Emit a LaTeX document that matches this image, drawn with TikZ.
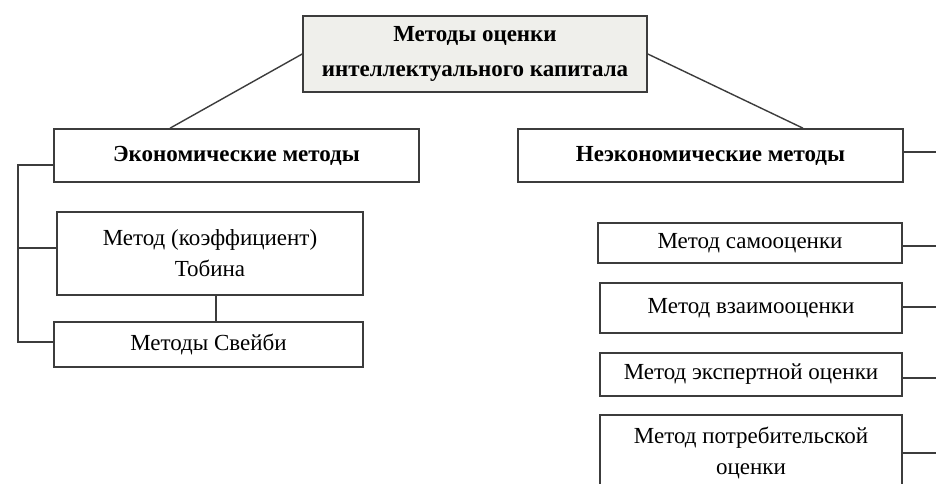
\documentclass[tikz,border=0pt]{standalone}
\usepackage{fontspec}
\setmainfont{Liberation Serif}
\definecolor{linec}{HTML}{3C3C3C}
\definecolor{topfill}{HTML}{EFEFEB}
\begin{document}
\begin{tikzpicture}[x=1pt,y=-1pt,
  box/.style={draw=linec, line width=1.6pt, fill=white, align=center, inner sep=0pt,
    font=\fontsize{23}{31}\selectfont},
  hbox/.style={box, font=\fontsize{23}{35}\selectfont\bfseries},
  conn/.style={draw=linec, line width=1.4pt}]
\useasboundingbox (0,0) rectangle (936,484);
\fill[white] (0,0) rectangle (936,484);
% nodes
\node[hbox, fill=topfill, minimum width=344pt, minimum height=76pt] (top) at (475,54)
  {Методы оценки\\интеллектуального капитала};
\node[hbox, minimum width=365pt, minimum height=53pt] (econ) at (236.5,155.5)
  {Экономические методы};
\node[box, minimum width=306pt, minimum height=83pt] (tobin) at (210,253.5)
  {Метод (коэффициент)\\Тобина};
\node[box, minimum width=309pt, minimum height=45pt] (svejby) at (208.5,344.5)
  {Методы Свейби};
\node[hbox, minimum width=385pt, minimum height=53pt] (nonecon) at (710.5,155.5)
  {Неэкономические методы};
\node[box, minimum width=304pt, minimum height=40pt] (samo) at (750,243)
  {Метод самооценки};
\node[box, minimum width=302pt, minimum height=50pt] (vzaim) at (751,308)
  {Метод взаимооценки};
\node[box, minimum width=302pt, minimum height=43pt] (expert) at (751,374.5)
  {Метод экспертной оценки};
\node[box, minimum width=302pt, minimum height=76pt] (potreb) at (751,453)
  {Метод потребительской\\оценки};
% connectors
\draw[conn] (top.west) -- (econ.north -| 170,0);
\draw[conn] (top.east) -- (nonecon.north -| 803,0);
\draw[conn] (tobin.south -| 216,0) -- (svejby.north -| 216,0);
\coordinate (lb) at (18,165);
\draw[conn] (econ.west |- lb) -- (lb) |- (svejby.west |- 0,342);
\draw[conn] (tobin.west |- 0,248) -- (lb |- 0,248);
\coordinate (re) at (936,0);
\draw[conn] (nonecon.east |- 0,152) -- (re |- 0,152);
\draw[conn] (samo.east |- 0,246) -- (re |- 0,246);
\draw[conn] (vzaim.east |- 0,307) -- (re |- 0,307);
\draw[conn] (expert.east |- 0,378) -- (re |- 0,378);
\draw[conn] (potreb.east |- 0,453) -- (re |- 0,453);
\end{tikzpicture}
\end{document}
